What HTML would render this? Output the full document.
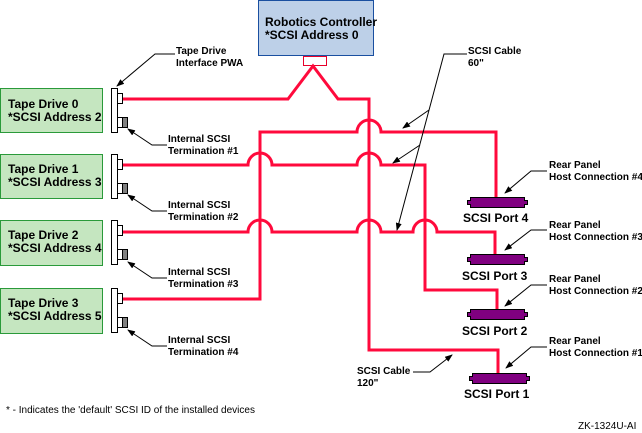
<!DOCTYPE html>
<html><head><style>body{margin:0;background:#fff}svg{display:block}text{font-family:"Liberation Sans",sans-serif}</style></head><body>
<svg width="642" height="433" viewBox="0 0 642 433" xmlns="http://www.w3.org/2000/svg">
<defs><marker id="a" markerWidth="8" markerHeight="6" refX="7" refY="3" orient="auto" markerUnits="userSpaceOnUse"><path d="M0,0 L8,3 L0,6 z" fill="#000"/></marker></defs>
<rect x="258.5" y="0.5" width="115" height="55" fill="#bdd0e8" stroke="#1a4fa0"/>
<text x="265" y="26" font-size="12" font-weight="bold">Robotics Controller</text>
<text x="265" y="39" font-size="12" font-weight="bold">*SCSI Address 0</text>
<rect x="303.5" y="56.5" width="23" height="9" fill="#fff" stroke="#e8002a"/>
<g fill="#c5e6c0" stroke="#2a9a3a">
<rect x="0.5" y="88.5" width="102" height="44"/><rect x="0.5" y="154.5" width="102" height="44"/>
<rect x="0.5" y="220.5" width="102" height="45"/><rect x="0.5" y="288.5" width="102" height="45"/></g>
<g font-size="12" font-weight="bold">
<text x="8" y="108">Tape Drive 0</text><text x="8" y="121">*SCSI Address 2</text>
<text x="8" y="173">Tape Drive 1</text><text x="8" y="186">*SCSI Address 3</text>
<text x="8" y="239">Tape Drive 2</text><text x="8" y="252">*SCSI Address 4</text>
<text x="8" y="307">Tape Drive 3</text><text x="8" y="320">*SCSI Address 5</text></g>
<g stroke="#000" fill="#fff">
<g id="p"><rect x="111.5" y="88.5" width="6" height="44"/><rect x="117.5" y="93.5" width="5" height="10"/><rect x="117.5" y="117.5" width="5" height="10"/><rect x="122.5" y="117.5" width="5" height="10" fill="#808080"/></g>
<use href="#p" y="66"/><use href="#p" y="132"/><use href="#p" y="200"/></g>
<g fill="none" stroke="#ff0a3c" stroke-width="3">
<path d="M123,99 H288 L313,66 L338,99 H369 V350 H498 V375"/>
<path d="M123,299 H260 V132 H357 A12,12 0 0 1 381,132 H496 V197"/>
<path d="M123,165 H248 A12,12 0 0 1 272,165 H357 A12,12 0 0 1 381,165 H425 V290 H497 V309"/>
<path d="M123,232 H248 A12,12 0 0 1 272,232 H357 A12,12 0 0 1 381,232 H413 A12,12 0 0 1 437,232 H495 V254"/>
</g>
<g fill="#800080" stroke="#000">
<path d="M470.5,197.5 H524.5 V200.5 H527.5 V204.5 H524.5 V207.5 H470.5 V204.5 H467.5 V200.5 H470.5 Z"/>
<path d="M470.5,254.5 H524.5 V257.5 H527.5 V261.5 H524.5 V264.5 H470.5 V261.5 H467.5 V257.5 H470.5 Z"/>
<path d="M470.5,309.5 H524.5 V312.5 H527.5 V316.5 H524.5 V319.5 H470.5 V316.5 H467.5 V312.5 H470.5 Z"/>
<path d="M472.5,373.5 H526.5 V376.5 H529.5 V380.5 H526.5 V383.5 H472.5 V380.5 H469.5 V376.5 H472.5 Z"/>
</g>
<g font-size="12" font-weight="bold">
<text x="463" y="222">SCSI Port 4</text><text x="462" y="280">SCSI Port 3</text>
<text x="462" y="335">SCSI Port 2</text><text x="464" y="398">SCSI Port 1</text></g>
<g font-size="10" font-weight="bold">
<text x="176" y="54">Tape Drive</text><text x="176" y="66">Interface PWA</text>
<text x="168" y="142">Internal SCSI</text><text x="168" y="154">Termination #1</text>
<text x="168" y="208">Internal SCSI</text><text x="168" y="220">Termination #2</text>
<text x="168" y="275">Internal SCSI</text><text x="168" y="287">Termination #3</text>
<text x="168" y="343">Internal SCSI</text><text x="168" y="355">Termination #4</text>
<text x="468" y="54">SCSI Cable</text><text x="468" y="66">60"</text>
<text x="357" y="374">SCSI Cable</text><text x="357" y="386">120"</text>
<text x="549" y="168">Rear Panel</text><text x="549" y="180">Host Connection #4</text>
<text x="549" y="228">Rear Panel</text><text x="549" y="240">Host Connection #3</text>
<text x="549" y="282">Rear Panel</text><text x="549" y="294">Host Connection #2</text>
<text x="549" y="344">Rear Panel</text><text x="549" y="356">Host Connection #1</text></g>
<g stroke="#000" fill="none" marker-end="url(#a)">
<path d="M175,54 H155 L117,86"/>
<path d="M167,145 H152 L128,129"/><path d="M167,211 H152 L128,195"/>
<path d="M167,278 H152 L128,262"/><path d="M167,346 H152 L128,330"/>
<path d="M467,54 H444 L397,230"/><path d="M429,110 L403,128"/><path d="M420,145 L393,163"/>
<path d="M413,372 H430 L452,355"/>
<path d="M547,171 H531 L505,193"/><path d="M547,230 H531 L505,250"/>
<path d="M547,285 H531 L505,306"/><path d="M547,347 H531 L506,368"/>
</g>
<text x="6" y="413" font-size="10">* - Indicates the 'default' SCSI ID of the installed devices</text>
<text x="578" y="429" font-size="10">ZK-1324U-AI</text>
</svg></body></html>
